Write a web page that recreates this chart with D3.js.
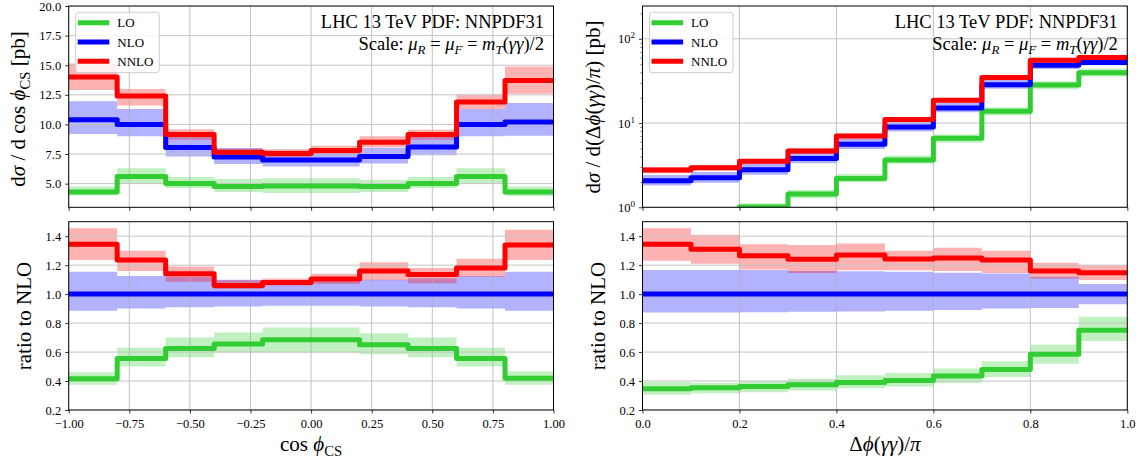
<!DOCTYPE html>
<html><head><meta charset="utf-8">
<script src="https://cdn.jsdelivr.net/npm/d3@7"></script>
<style>
body{margin:0;background:#fff;}
svg text{font-family:"Liberation Serif","DejaVu Serif",serif;fill:#000;}
</style></head><body>
<svg id="c" width="1144" height="461"></svg>
<script>
// ---------------- data ----------------
const cosEdges = [-1.0,-0.8,-0.6,-0.4,-0.2,0.0,0.2,0.4,0.6,0.8,1.0];
const dphiEdges = [0.0,0.1,0.2,0.3,0.4,0.5,0.6,0.7,0.8,0.9,1.0];

// dsigma/dcos(phi_CS) [pb]
const cosLO     = [4.3, 5.6, 5.0, 4.75, 4.8, 4.8, 4.75, 5.0, 5.6, 4.3];
const cosLOlo   = [4.0, 5.05, 4.6, 4.3, 4.2, 4.2, 4.3, 4.6, 5.05, 3.95];
const cosLOhi   = [4.75, 6.3, 5.55, 5.4, 5.45, 5.45, 5.3, 5.55, 6.3, 4.75];
const cosNLO    = [10.4, 10.0, 8.05, 7.25, 7.0, 7.0, 7.3, 8.1, 10.0, 10.2];
const cosNLOlo  = [9.2, 9.0, 7.3, 6.65, 6.45, 6.45, 6.7, 7.4, 9.0, 9.05];
const cosNLOhi  = [11.95, 11.3, 9.0, 8.0, 7.7, 7.7, 8.0, 9.0, 11.3, 11.8];
const cosNNLO   = [14.0, 12.4, 9.15, 7.65, 7.55, 7.8, 8.5, 9.15, 11.9, 13.7];
const cosNNLOlo = [12.9, 11.6, 8.7, 7.3, 7.25, 7.45, 8.05, 8.7, 11.3, 12.6];
const cosNNLOhi = [15.15, 13.0, 9.6, 7.95, 7.9, 8.2, 9.0, 9.55, 12.5, 14.9];

// ratio to NLO, cos(phi_CS)
const cosRLO     = [0.415, 0.555, 0.625, 0.655, 0.685, 0.685, 0.65, 0.625, 0.555, 0.42];
const cosRLOlo   = [0.375, 0.50, 0.565, 0.595, 0.595, 0.595, 0.585, 0.565, 0.50, 0.375];
const cosRLOhi   = [0.46, 0.63, 0.70, 0.735, 0.77, 0.77, 0.73, 0.70, 0.63, 0.465];
const cosRNLO    = [1.0, 1.0, 1.0, 1.0, 1.0, 1.0, 1.0, 1.0, 1.0, 1.0];
const cosRNLOlo  = [0.885, 0.90, 0.91, 0.915, 0.92, 0.92, 0.915, 0.91, 0.90, 0.885];
const cosRNLOhi  = [1.155, 1.125, 1.12, 1.10, 1.095, 1.095, 1.10, 1.11, 1.125, 1.155];
const cosRNNLO   = [1.345, 1.235, 1.14, 1.06, 1.08, 1.105, 1.16, 1.135, 1.18, 1.34];
const cosRNNLOlo = [1.235, 1.16, 1.085, 1.035, 1.06, 1.07, 1.095, 1.075, 1.12, 1.235];
const cosRNNLOhi = [1.455, 1.30, 1.19, 1.095, 1.108, 1.14, 1.22, 1.18, 1.245, 1.445];

// dsigma/d(dphi/pi) [pb]
const dphiLO     = [0.72, 0.80, 1.01, 1.44, 2.2, 3.65, 6.6, 13.8, 28.3, 39.4];
const dphiLOlo   = [0.635, 0.714, 0.90, 1.28, 1.98, 3.28, 5.85, 12.3, 25.2, 35.6];
const dphiLOhi   = [0.815, 0.872, 1.12, 1.60, 2.49, 4.12, 7.37, 15.4, 31.4, 44.3];
const dphiNLO    = [2.07, 2.25, 2.8, 3.8, 5.6, 8.95, 15.1, 28.4, 48.5, 52.3];
const dphiNLOlo  = [1.81, 1.96, 2.44, 3.34, 4.93, 7.92, 13.4, 25.6, 43.9, 48.6];
const dphiNLOhi  = [2.41, 2.62, 3.26, 4.41, 6.5, 10.3, 17.3, 32.5, 54.3, 56.0];
const dphiNNLO   = [2.77, 2.95, 3.51, 4.66, 7.0, 11.0, 18.7, 34.8, 55.8, 60.0];
const dphiNNLOlo = [2.53, 2.73, 3.25, 4.30, 6.42, 10.3, 17.4, 32.3, 53.3, 57.4];
const dphiNNLOhi = [3.0, 3.17, 3.73, 5.04, 7.44, 11.5, 19.7, 36.6, 58.5, 62.7];

// ratio to NLO, dphi/pi
const dphiRLO     = [0.347, 0.354, 0.362, 0.375, 0.389, 0.403, 0.435, 0.48, 0.585, 0.75];
const dphiRLOlo   = [0.306, 0.316, 0.322, 0.334, 0.35, 0.362, 0.386, 0.427, 0.52, 0.677];
const dphiRLOhi   = [0.393, 0.386, 0.40, 0.416, 0.44, 0.455, 0.486, 0.536, 0.65, 0.843];
const dphiRNLO    = [1.0, 1.0, 1.0, 1.0, 1.0, 1.0, 1.0, 1.0, 1.0, 1.0];
const dphiRNLOlo  = [0.873, 0.873, 0.875, 0.878, 0.88, 0.885, 0.89, 0.90, 0.905, 0.93];
const dphiRNLOhi  = [1.166, 1.166, 1.166, 1.16, 1.158, 1.155, 1.148, 1.143, 1.12, 1.07];
const dphiRNNLO   = [1.344, 1.31, 1.265, 1.24, 1.27, 1.243, 1.25, 1.235, 1.16, 1.148];
const dphiRNNLOlo = [1.23, 1.21, 1.17, 1.145, 1.165, 1.165, 1.16, 1.145, 1.108, 1.097];
const dphiRNNLOhi = [1.455, 1.41, 1.345, 1.34, 1.35, 1.30, 1.32, 1.30, 1.217, 1.20];

// ticks
const cosTicks = [-1.0,-0.75,-0.5,-0.25,0.0,0.25,0.5,0.75,1.0];
const cosTickLabels = ["\u22121.00","\u22120.75","\u22120.50","\u22120.25","0.00","0.25","0.50","0.75","1.00"];
const dphiTicks = [0.0,0.2,0.4,0.6,0.8,1.0];
const dphiTickLabels = ["0.0","0.2","0.4","0.6","0.8","1.0"];
const xsecTicks = [5.0,7.5,10.0,12.5,15.0,17.5,20.0];
const xsecTickLabels = ["5.0","7.5","10.0","12.5","15.0","17.5","20.0"];
const ratioTicks = [0.2,0.4,0.6,0.8,1.0,1.2,1.4];
const ratioTickLabels = ["0.2","0.4","0.6","0.8","1.0","1.2","1.4"];
const logTicks = [1,10,100];
const logTickExps = ["0","1","2"];
const logMinor = [2,3,4,5,6,7,8,9,20,30,40,50,60,70,80,90,200];
const seriesNames = ["LO","NLO","NNLO"];

// ---------------- drawing ----------------
const svg = d3.select("#c");
const colors = {LO:"#32cd32", NLO:"#0000ff", NNLO:"#ff0000"};
const LX = [68.7, 553.5], RX = [642.5, 1127.3];
const TY = [207.3, 6], BY = [410, 221.7];
const TICKFS = 12.5;
let clipN = 0;

function drawPanel(cfg){
  const xs = cfg.xs, ys = cfg.ys;
  const [X0,X1] = xs.range(); const [YB,YT] = ys.range();
  const id = "clip"+(clipN++);
  svg.append("clipPath").attr("id",id).append("rect")
     .attr("x",X0).attr("y",YT).attr("width",X1-X0).attr("height",YB-YT);
  const g = svg.append("g");
  const inner = g.append("g").attr("clip-path",`url(#${id})`);
  const pts = (arr)=> cfg.edges.map((e,i)=>({x:e, v:arr[Math.min(i,arr.length-1)]}));
  // bands
  cfg.series.forEach(s=>{
    const lo = pts(s.lo), hi = pts(s.hi);
    const d = lo.map((p,i)=>({x:p.x, lo:p.v, hi:hi[i].v}));
    inner.append("path")
      .attr("d", d3.area().curve(d3.curveStepAfter).x(p=>xs(p.x)).y0(p=>ys(p.lo)).y1(p=>ys(p.hi))(d))
      .attr("fill", colors[s.name]).attr("fill-opacity",0.3).attr("stroke","none");
  });
  // grid
  const grid = inner.append("g");
  cfg.xTicks.forEach(t=>{
    grid.append("line").attr("x1",xs(t)).attr("x2",xs(t)).attr("y1",YT).attr("y2",YB)
      .attr("stroke","#b0b0b0").attr("stroke-width",0.8);
  });
  cfg.yTicks.forEach(t=>{
    grid.append("line").attr("x1",X0).attr("x2",X1).attr("y1",ys(t)).attr("y2",ys(t))
      .attr("stroke","#c4c4c4").attr("stroke-width",1);
  });
  // lines
  cfg.series.forEach(s=>{
    inner.append("path")
      .attr("d", d3.line().curve(d3.curveStepAfter).x(p=>xs(p.x)).y(p=>ys(p.v))(pts(s.v)))
      .attr("fill","none").attr("stroke",colors[s.name]).attr("stroke-width",5)
      .attr("stroke-linejoin","round");
  });
  // frame
  g.append("rect").attr("x",X0).attr("y",YT).attr("width",X1-X0).attr("height",YB-YT)
    .attr("fill","none").attr("stroke","#000").attr("stroke-width",1);
  // x axis
  const xa = g.append("g").attr("transform",`translate(0,${YB})`)
    .call(d3.axisBottom(xs).tickValues(cfg.xTicks).tickSize(3.5).tickSizeOuter(0).tickPadding(6)
      .tickFormat((d,i)=> cfg.xLabels ? cfg.xLabels[i] : ""));
  // y axis
  const ya = g.append("g").attr("transform",`translate(${X0},0)`)
    .call(d3.axisLeft(ys).tickValues(cfg.yTicks).tickSize(3.5).tickSizeOuter(0).tickPadding(4)
      .tickFormat((d,i)=> cfg.yLabels ? cfg.yLabels[i] : ""));
  if (cfg.log){
    ya.selectAll(".tick text").each(function(d,i){
      const t = d3.select(this); t.text(null);
      t.append("tspan").text("10");
      t.append("tspan").attr("dy",-5).style("font-size","9px").text(logTickExps[i]);
    });
    g.append("g").attr("transform",`translate(${X0},0)`)
      .call(d3.axisLeft(ys).tickValues(logMinor).tickSize(2).tickSizeOuter(0).tickFormat(""))
      .call(a=>a.select(".domain").remove())
      .selectAll("line").attr("stroke","#000").attr("stroke-width",0.6);
  }
  [xa,ya].forEach(a=>{
    a.select(".domain").remove();
    a.selectAll(".tick line").attr("stroke","#000").attr("stroke-width",0.8);
    a.selectAll(".tick text").style("font-size",TICKFS+"px")
      .style("font-family",'"Liberation Serif","DejaVu Serif",serif').attr("fill","#000");
  });
  return g;
}

function rich(sel, parts, fs){
  sel.selectAll("tspan").remove();
  let cur = 0;
  parts.forEach(p=>{
    const ts = sel.append("tspan").text(p.t);
    if (p.i) ts.style("font-style","italic");
    let target = 0, size = fs;
    if (p.sub){ target = 0.24*fs; size = 0.7*fs; }
    ts.style("font-size", size+"px");
    if (target !== cur){ ts.attr("dy", target-cur); cur = target; }
  });
}
function fitText(sel, parts, width, fs0, fsMax){
  rich(sel, parts, fs0);
  const w = sel.node().getComputedTextLength();
  const fs = Math.min(fsMax, fs0*width/w);
  rich(sel, parts, fs);
  return fs;
}

function legend(ax){
  const g = svg.append("g");
  g.append("rect").attr("x",ax+7).attr("y",12.3).attr("width",83.6).attr("height",60.4)
    .attr("rx",3).attr("fill","#fff").attr("fill-opacity",0.8).attr("stroke","#cccccc").attr("stroke-width",1);
  const ly = d3.scalePoint().domain(seriesNames).range([22.7,61.3]);
  seriesNames.forEach(n=>{
    g.append("line").attr("x1",ax+9).attr("x2",ax+40.6).attr("y1",ly(n)).attr("y2",ly(n))
      .attr("stroke",colors[n]).attr("stroke-width",5);
    g.append("text").attr("x",ax+48.6).attr("y",ly(n)).attr("dy","0.35em")
      .style("font-size","13px").text(n);
  });
}
function annot(axRight){
  const t1 = svg.append("text").attr("x",axRight-9.5).attr("y",28).attr("text-anchor","end");
  const fs = fitText(t1, [{t:"LHC 13 TeV PDF: NNPDF31"}], 250, 18, 18.5);
  const t2 = svg.append("text").attr("x",axRight-9.5).attr("y",49.5).attr("text-anchor","end");
  rich(t2, [{t:"Scale: "},{t:"μ",i:1},{t:"R",i:1,sub:1},{t:" = "},{t:"μ",i:1},{t:"F",i:1,sub:1},
            {t:" = "},{t:"m",i:1},{t:"T",i:1,sub:1},{t:"("},{t:"γγ",i:1},{t:")/2"}], fs);
}
function ylabel(x, y, parts, width){
  const t = svg.append("text").attr("transform",`translate(${x},${y}) rotate(-90)`).attr("text-anchor","middle");
  fitText(t, parts, width, 20, 21);
}
function xlabel(x, y, parts, width){
  const t = svg.append("text").attr("x",x).attr("y",y).attr("text-anchor","middle");
  fitText(t, parts, width, 20, 21);
}

// scales
const xCosT = d3.scaleLinear().domain([-1,1]).range(LX);
const yXsec = d3.scaleLinear().domain([3,20]).range(TY);
const yRatL = d3.scaleLinear().domain([0.2,1.5]).range(BY);
const xPhi = d3.scaleLinear().domain([0,1]).range(RX);
const yLog = d3.scaleLog().domain([1,245]).range(TY);
const yRatR = d3.scaleLinear().domain([0.2,1.5]).range(BY);

drawPanel({xs:xCosT, ys:yXsec, edges:cosEdges, xTicks:cosTicks, yTicks:xsecTicks, yLabels:xsecTickLabels,
  series:[{name:"LO",v:cosLO,lo:cosLOlo,hi:cosLOhi},{name:"NLO",v:cosNLO,lo:cosNLOlo,hi:cosNLOhi},
          {name:"NNLO",v:cosNNLO,lo:cosNNLOlo,hi:cosNNLOhi}]});
drawPanel({xs:xCosT, ys:yRatL, edges:cosEdges, xTicks:cosTicks, xLabels:cosTickLabels, yTicks:ratioTicks, yLabels:ratioTickLabels,
  series:[{name:"LO",v:cosRLO,lo:cosRLOlo,hi:cosRLOhi},{name:"NLO",v:cosRNLO,lo:cosRNLOlo,hi:cosRNLOhi},
          {name:"NNLO",v:cosRNNLO,lo:cosRNNLOlo,hi:cosRNNLOhi}]});
drawPanel({xs:xPhi, ys:yLog, log:true, edges:dphiEdges, xTicks:dphiTicks, yTicks:logTicks, yLabels:logTickExps,
  series:[{name:"LO",v:dphiLO,lo:dphiLOlo,hi:dphiLOhi},{name:"NLO",v:dphiNLO,lo:dphiNLOlo,hi:dphiNLOhi},
          {name:"NNLO",v:dphiNNLO,lo:dphiNNLOlo,hi:dphiNNLOhi}]});
drawPanel({xs:xPhi, ys:yRatR, edges:dphiEdges, xTicks:dphiTicks, xLabels:dphiTickLabels, yTicks:ratioTicks, yLabels:ratioTickLabels,
  series:[{name:"LO",v:dphiRLO,lo:dphiRLOlo,hi:dphiRLOhi},{name:"NLO",v:dphiRNLO,lo:dphiRNLOlo,hi:dphiRNLOhi},
          {name:"NNLO",v:dphiRNNLO,lo:dphiRNNLOlo,hi:dphiRNNLOhi}]});

legend(LX[0]); legend(RX[0]);
annot(LX[1]); annot(RX[1]);

ylabel(25, 109, [{t:"d"},{t:"σ",i:1},{t:" / d cos "},{t:"ϕ",i:1},{t:"CS",sub:1},{t:" [pb]"}], 175);
ylabel(31, 316, [{t:"ratio to NLO"}], 122);
ylabel(600, 107, [{t:"d"},{t:"σ",i:1},{t:" / d(Δ"},{t:"ϕ",i:1},{t:"("},{t:"γγ",i:1},{t:")/"},{t:"π",i:1},{t:") [pb]"}], 206);
ylabel(605, 316, [{t:"ratio to NLO"}], 122);
xlabel((LX[0]+LX[1])/2, 451, [{t:"cos "},{t:"ϕ",i:1},{t:"CS",sub:1}], 65);
xlabel((RX[0]+RX[1])/2, 451, [{t:"Δ"},{t:"ϕ",i:1},{t:"("},{t:"γγ",i:1},{t:")/"},{t:"π",i:1}], 99);
</script>
</body></html>
